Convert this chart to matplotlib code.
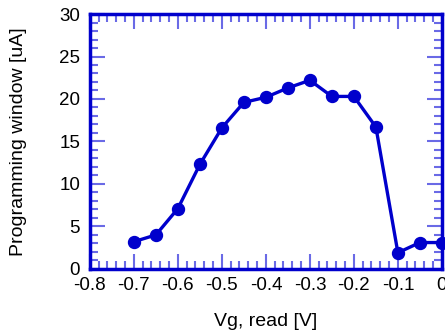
import matplotlib
matplotlib.use("Agg")
import matplotlib.pyplot as plt
from matplotlib.ticker import MultipleLocator

plt.rcParams['font.family'] = ['Liberation Sans', 'DejaVu Sans']

vg_read = [-0.7, -0.65, -0.6, -0.55, -0.5, -0.45, -0.4, -0.35, -0.3,
           -0.25, -0.2, -0.15, -0.1, -0.05, 0.0]
prog_window = [3.2, 4.0, 7.1, 12.3, 16.6, 19.6, 20.2, 21.3, 22.2,
               20.3, 20.3, 16.7, 1.9, 3.1, 3.1]
x_ticks = [-0.8, -0.7, -0.6, -0.5, -0.4, -0.3, -0.2, -0.1, 0]
x_ticklabels = ['-0.8', '-0.7', '-0.6', '-0.5', '-0.4', '-0.3', '-0.2', '-0.1', '0']

blue = '#0000CC'
tick_blue = '#6a6ae6'

fig = plt.figure(figsize=(4.45, 3.34), dpi=100)
ax = fig.add_axes([0.202, 0.195, 0.791, 0.763])

ax.plot(vg_read, prog_window, color=blue, linewidth=2.4, marker='o',
        markersize=8.6, clip_on=False, zorder=5)

ax.set_xlim(-0.8, 0)
ax.set_ylim(0, 30)
ax.set_xticks(x_ticks)
ax.set_xticklabels(x_ticklabels)
ax.xaxis.set_minor_locator(MultipleLocator(0.02))
ax.yaxis.set_major_locator(MultipleLocator(5))
ax.yaxis.set_minor_locator(MultipleLocator(1))

ax.tick_params(which='both', direction='in', top=True, right=True,
               color=tick_blue, labelsize=13.5, labelcolor='black')
ax.tick_params(which='major', length=11, width=1.5)
ax.tick_params(axis='y', which='major', pad=7)
ax.tick_params(axis='x', which='major', pad=6)
ax.tick_params(which='minor', length=5.5, width=1.5)

for s in ax.spines.values():
    s.set_color(blue)
    s.set_linewidth(2.5)
    s.set_zorder(6)

ax.set_xlabel('Vg, read [V]', fontsize=14)
ax.set_ylabel('Programming window [uA]', fontsize=14)
ax.xaxis.set_label_coords(0.5, -0.172)
ax.yaxis.set_label_coords(-0.18, 0.5)

fig.savefig('out.png', dpi=100)
